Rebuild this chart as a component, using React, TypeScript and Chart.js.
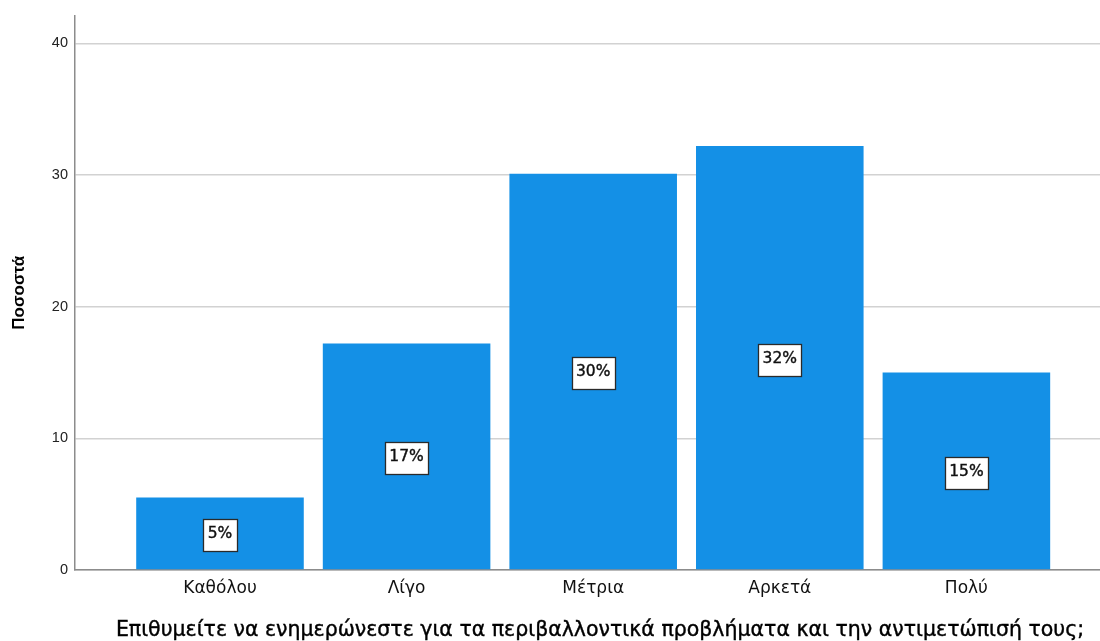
import React, { useEffect, useRef } from "react";
import { Chart, registerables } from "chart.js";

Chart.register(...registerables);

const categories = ["Καθόλου", "Λίγο", "Μέτρια", "Αρκετά", "Πολύ"];
const percentValues = [5.5, 17.2, 30.1, 32.2, 15.0];
const barLabels = ["5%", "17%", "30%", "32%", "15%"];
const yTicks = [0, 10, 20, 30, 40];
const xTitle = "Επιθυμείτε να ενημερώνεστε για τα περιβαλλοντικά προβλήματα και την αντιμετώπισή τους;";
const yTitle = "Ποσοστά";

export default function App() {
  const ref = useRef<HTMLCanvasElement | null>(null);

  useEffect(() => {
    const canvas = ref.current;
    if (!canvas) return;

    const labelPlugin = {
      id: "barLabels",
      afterDatasetsDraw(chart: any) {
        const ctx = chart.ctx;
        const meta = chart.getDatasetMeta(0);
        ctx.save();
        ctx.font = "15.5px 'DejaVu Sans'";
        meta.data.forEach((bar: any, i: number) => {
          const mid = (bar.y + bar.base) / 2;
          const text = barLabels[i];
          const tw = ctx.measureText(text).width;
          const w = Math.round(tw + 9);
          const h = 32;
          const left = Math.round(bar.x - w / 2) + 0.5;
          const top = Math.round(mid - 14) + 0.5;
          ctx.fillStyle = "#ffffff";
          ctx.fillRect(left, top, w, h);
          ctx.strokeStyle = "#2a2a2a";
          ctx.lineWidth = 1.3;
          ctx.strokeRect(left, top, w, h);
          ctx.fillStyle = "#111111";
          ctx.strokeStyle = "#111111";
          ctx.lineWidth = 0.4;
          ctx.textAlign = "center";
          ctx.textBaseline = "alphabetic";
          ctx.fillText(text, bar.x, mid + 5);
          ctx.strokeText(text, bar.x, mid + 5);
        });
        ctx.restore();
      },
      afterDraw(chart: any) {
        const ctx = chart.ctx;
        const area = chart.chartArea;
        ctx.save();
        ctx.fillStyle = "#000000";
        ctx.font = "bold 17px 'Liberation Sans'";
        ctx.textAlign = "center";
        ctx.textBaseline = "middle";
        ctx.translate(19, (area.top + area.bottom) / 2);
        ctx.rotate(-Math.PI / 2);
        ctx.fillText(yTitle, 0, 0);
        ctx.restore();

        ctx.save();
        ctx.fillStyle = "#000000";
        ctx.strokeStyle = "#000000";
        ctx.lineWidth = 0.4;
        ctx.font = "20.5px 'DejaVu Sans'";
        ctx.textAlign = "center";
        ctx.textBaseline = "alphabetic";
        ctx.fillText(xTitle, 600, 636);
        ctx.strokeText(xTitle, 600, 636);
        ctx.restore();
      },
    };

    const chart = new Chart(canvas, {
      type: "bar",
      data: {
        datasets: [
          {
            data: percentValues.map((v, i) => ({ x: i, y: v })),
            backgroundColor: "#1490e6",
            borderWidth: 0,
            barPercentage: 0.898,
            categoryPercentage: 1,
          },
        ],
      },
      options: {
        animation: false,
        responsive: false,
        events: [],
        layout: { padding: { top: 15, right: 0, left: 0, bottom: 0 } },
        plugins: {
          legend: { display: false },
          tooltip: { enabled: false },
        },
        scales: {
          x: {
            type: "linear",
            offset: false,
            min: -0.777,
            max: 4.716,
            afterFit(scale: any) {
              scale.height = 71;
            },
            afterBuildTicks(scale: any) {
              scale.ticks = categories.map((_, i) => ({ value: i }));
            },
            grid: { display: false, drawTicks: false, offset: false },
            border: { display: true, color: "#8c8c8c", width: 1.5 },
            ticks: {
              autoSkip: false,
              maxRotation: 0,
              padding: 8,
              color: "#111111",
              font: { family: "'DejaVu Sans'", size: 17 },
              callback: (v: any) => categories[Math.round(Number(v))] ?? "",
            },
          },
          y: {
            type: "linear",
            min: 0,
            max: 42.1,
            afterFit(scale: any) {
              scale.width = 75;
            },
            afterBuildTicks(scale: any) {
              scale.ticks = yTicks.map((v) => ({ value: v }));
            },
            grid: { color: "#d2d2d2", lineWidth: 1.5, drawTicks: false },
            border: { display: true, color: "#8c8c8c", width: 1.5 },
            ticks: {
              padding: 7,
              color: "#222222",
              font: { family: "'Liberation Sans'", size: 14.5 },
            },
          },
        },
      },
      plugins: [labelPlugin],
    });

    return () => chart.destroy();
  }, []);

  return (
    <div style={{ position: "absolute", left: 0, top: 0, width: 1100, height: 641, background: "#ffffff" }}>
      <canvas ref={ref} width={1100} height={641} style={{ display: "block" }} />
    </div>
  );
}
